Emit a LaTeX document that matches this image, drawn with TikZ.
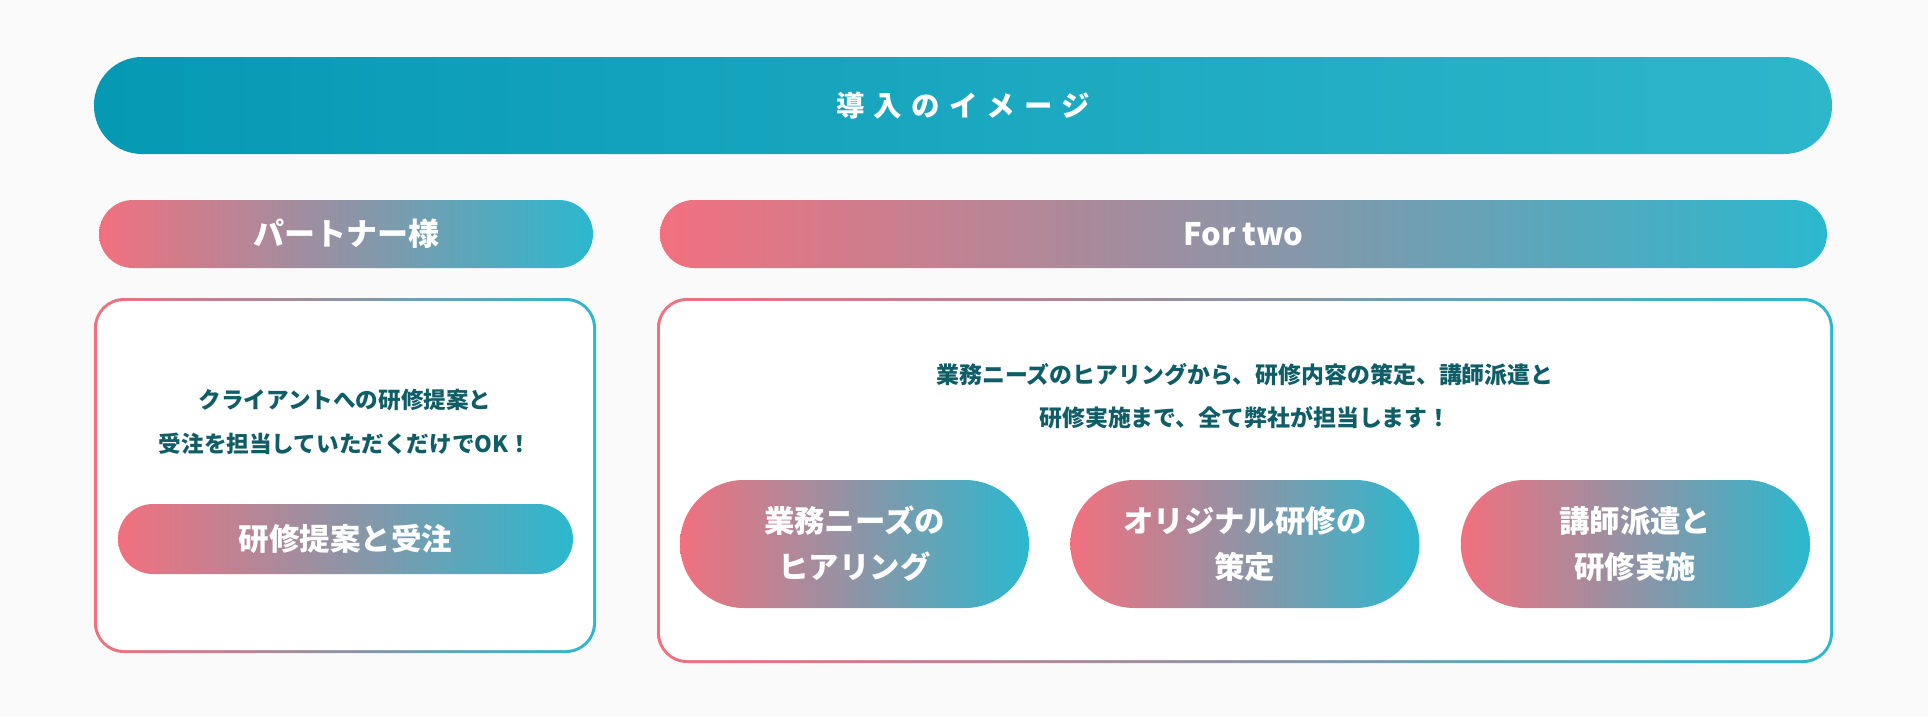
\documentclass[tikz,border=0pt]{standalone}
\usepackage{fontspec}
\setmainfont{Noto Sans CJK JP}
\usetikzlibrary{positioning}

\definecolor{pinkend}{HTML}{F2707E}
\definecolor{tealend}{HTML}{2BB8CE}
\definecolor{titleleft}{HTML}{0699B4}
\definecolor{titleright}{HTML}{2EB6CB}
\definecolor{bodytext}{HTML}{0F5D67}
\definecolor{pagebg}{HTML}{FAFAFA}

\begin{document}
\begin{tikzpicture}[x=1pt, y=-1pt,
    titlebar/.style={rounded corners=48pt, left color=titleleft, right color=titleright, minimum width=1738pt, minimum height=97pt, text=white, font=\bfseries\fontsize{28.5}{28.5}\selectfont\addfontfeatures{LetterSpace=32}},
    headpill/.style={rounded corners=34pt, left color=pinkend, right color=tealend, minimum height=68pt, text=white, font=\bfseries\fontsize{31}{31}\selectfont},
    framebox/.style={rounded corners=30pt, left color=pinkend, right color=tealend,
        path picture={\fill[white, rounded corners=27pt] ([shift={(3pt,-3pt)}]path picture bounding box.north west) rectangle ([shift={(-3pt,3pt)}]path picture bounding box.south east);}},
    desctext/.style={align=center, text=bodytext, font=\bfseries\fontsize{22.6}{44}\selectfont},
    smallpill/.style={rounded corners=35pt, left color=pinkend, right color=tealend, minimum width=455pt, minimum height=70pt, text=white, font=\bfseries\fontsize{30.5}{30.5}\selectfont},
    bigpill/.style={rounded corners=64pt, left color=pinkend, right color=tealend, minimum width=349pt, minimum height=128pt, align=center, text=white, font=\bfseries\fontsize{30.4}{46}\selectfont}
    ]
        %Background
        \fill[pagebg] (0,0) rectangle (1928,716);

        %Nodes
        \node[titlebar]
            (title)         at (963,105.5)  {導入のイメージ};
        \node[headpill, minimum width=494pt]
            (partnerhead)   at (346,234)    {パートナー様};
        \node[headpill, minimum width=1167pt]
            (fortwohead)    at (1243.5,234) {For two};

        \node[framebox, minimum width=502pt, minimum height=355pt]
            (partnerbox)    at (345,475.5)  {};
        \node[framebox, minimum width=1176pt, minimum height=365pt]
            (fortwobox)     at (1245,480.5) {};

        \node[desctext]
            (partnerdesc)   at (345,422)    {クライアントへの研修提案と\\受注を担当していただくだけでOK！};
        \node[smallpill]
            (orderpill)     at (345.5,539)  {研修提案と受注};

        \node[desctext, font=\bfseries\fontsize{22.9}{43}\selectfont]
            (fortwodesc)    at (1245,396.5) {業務ニーズのヒアリングから、研修内容の策定、講師派遣と\\研修実施まで、全て弊社が担当します！};
        \node[bigpill]
            (hearingpill)   at (854.5,544)  {業務ニーズの\\ヒアリング};
        \node[bigpill]
            (planpill)      [right=41pt of hearingpill] {オリジナル研修の\\策定};
        \node[bigpill]
            (dispatchpill)  [right=41pt of planpill]    {講師派遣と\\研修実施};
    \end{tikzpicture}
\end{document}
